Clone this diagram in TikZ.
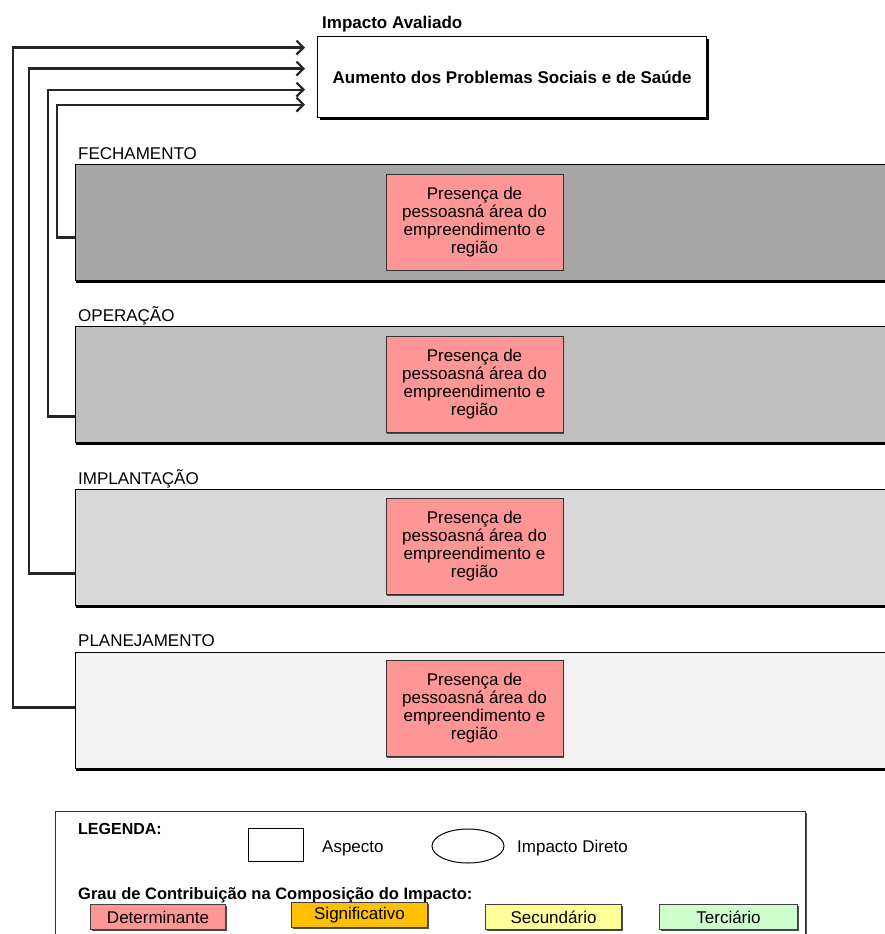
\documentclass[tikz,border=0pt]{standalone}
\usepackage{fontspec}
\setmainfont{Liberation Sans}
\usetikzlibrary{arrows.meta,shadows,shapes.geometric}

\definecolor{phaseA}{HTML}{A6A6A6}
\definecolor{phaseB}{HTML}{BFBFBF}
\definecolor{phaseC}{HTML}{D9D9D9}
\definecolor{phaseD}{HTML}{F2F2F2}
\definecolor{detpink}{RGB}{255,150,150}
\definecolor{sigorange}{HTML}{FFC000}
\definecolor{secyellow}{HTML}{FFFF99}
\definecolor{tergreen}{HTML}{CCFFCC}
\definecolor{linegray}{HTML}{262626}

\newcommand{\regtext}{\fontsize{17}{18}\selectfont}
\newcommand{\boldtext}{\fontsize{16}{18}\selectfont\bfseries}
\newcommand{\bigboldtext}{\fontsize{17}{18}\selectfont\bfseries}

\begin{document}
\begin{tikzpicture}[x=1pt,y=-1pt,
  phaseband/.style={draw=black, line width=1pt, anchor=north west,
    minimum width=830pt, minimum height=116pt, inner sep=0pt,
    drop shadow={shadow xshift=0.5pt, shadow yshift=-2.5pt, fill=black, opacity=1}},
  phaselabel/.style={anchor=base west, inner sep=0pt, font=\regtext},
  aspectbox/.style={draw=black!80, line width=1pt, fill=detpink,
    minimum width=177pt, minimum height=96pt, inner sep=0pt, align=center,
    font=\regtext,
    drop shadow={shadow xshift=1pt, shadow yshift=-1pt, fill=black!70, opacity=1}},
  impactbox/.style={draw=black, line width=1.2pt, fill=white, anchor=north west,
    minimum width=389pt, minimum height=81pt, inner sep=0pt, font=\bigboldtext,
    drop shadow={shadow xshift=2pt, shadow yshift=-2.5pt, fill=black, opacity=1}},
  conn/.style={line width=2.2pt, draw=linegray,
    -{Straight Barb[length=7pt,width=14pt]}},
  keybox/.style={draw=black!75, line width=1pt, minimum width=135pt,
    minimum height=25pt, inner sep=0pt, font=\regtext, anchor=north west,
    drop shadow={shadow xshift=1pt, shadow yshift=-1pt, fill=black!70, opacity=1}}
]
\useasboundingbox (0,0) rectangle (885,934);

% evaluated impact
\node[anchor=base west, inner sep=0pt, font=\bigboldtext] (impacttitle) at (322,29) {Impacto Avaliado};
\node[impactbox] (impact) at (317,36) {Aumento dos Problemas Sociais e de Saúde};

% project phases
\node[phaseband, fill=phaseA] (fech) at (75,164) {};
\node[phaselabel] (fechlbl) at (78,159) {FECHAMENTO};
\node[phaseband, fill=phaseB] (oper) at (75,326) {};
\node[phaselabel] (operlbl) at (78,321) {OPERAÇÃO};
\node[phaseband, fill=phaseC] (impl) at (75,489) {};
\node[phaselabel] (impllbl) at (78,484) {IMPLANTAÇÃO};
\node[phaseband, fill=phaseD] (plan) at (75,652) {};
\node[phaselabel] (planlbl) at (78,646) {PLANEJAMENTO};

% aspects
\node[aspectbox] (asp1) at (474.5,222) {Presença de\\pessoasná área do\\empreendimento e\\região};
\node[aspectbox] (asp2) at (474.5,384.5) {Presença de\\pessoasná área do\\empreendimento e\\região};
\node[aspectbox] (asp3) at (474.5,546.5) {Presença de\\pessoasná área do\\empreendimento e\\região};
\node[aspectbox] (asp4) at (474.5,708.5) {Presença de\\pessoasná área do\\empreendimento e\\região};

% connectors from each phase to the impact
\draw[conn] ([yshift=-15pt]fech.west) -- ++(-18,0) |- ([xshift=-12pt,yshift=-27.5pt]impact.west);
\draw[conn] ([yshift=-32pt]oper.west) -- ++(-27,0) |- ([xshift=-12pt,yshift=-12.5pt]impact.west);
\draw[conn] ([yshift=-26pt]impl.west) -- ++(-46,0) |- ([xshift=-12pt,yshift=8.5pt]impact.west);
\draw[conn] ([yshift=3pt]plan.west) -- ++(-62,0) |- ([xshift=-12pt,yshift=29.5pt]impact.west);

% legend
\node[draw=black!80, line width=1.2pt, anchor=north west, minimum width=750pt,
  minimum height=140pt, inner sep=0pt,
  drop shadow={shadow xshift=1.5pt, shadow yshift=-1pt, fill=black!70, opacity=1},
  fill=white] (legend) at (55,811) {};
\node[anchor=base west, inner sep=0pt, font=\boldtext] (legtitle) at (78,834) {LEGENDA:};
\node[draw=black, line width=1pt, minimum width=55pt, minimum height=33pt,
  inner sep=0pt, anchor=north west] (keyaspect) at (248,828) {};
\node[anchor=west, inner sep=0pt, font=\regtext] (keyaspectlbl) at (322,848) {Aspecto};
\node[draw=black, line width=1pt, ellipse, minimum width=72pt, minimum height=34pt,
  inner sep=0pt] (keyimpact) at (468,846) {};
\node[anchor=west, inner sep=0pt, font=\regtext] (keyimpactlbl) at (517,848) {Impacto Direto};
\node[anchor=base west, inner sep=0pt, font=\fontsize{16.5}{18}\selectfont\bfseries] (gradetitle) at (78,899) {Grau de Contribuição na Composição do Impacto:};
\node[keybox, fill=detpink] (kdet) at (90,904) {Determinante};
\node[keybox, fill=sigorange, minimum width=136pt] (ksig) at (291,902) {Significativo};
\node[keybox, fill=secyellow, minimum width=136pt] (ksec) at (485,904) {Secundário};
\node[keybox, fill=tergreen, minimum width=138pt] (kter) at (659,904) {Terciário};
\end{tikzpicture}
\end{document}
